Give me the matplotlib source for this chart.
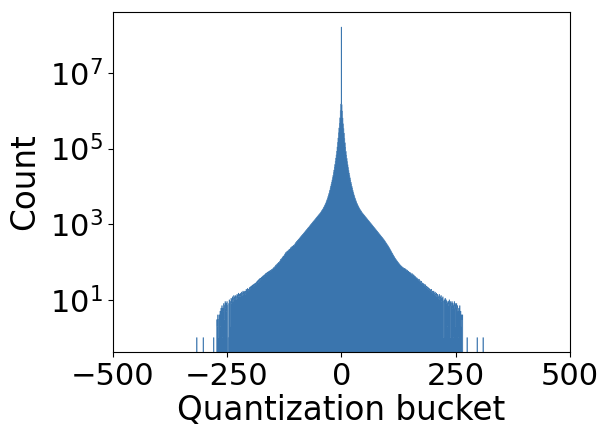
import numpy as np
import matplotlib
matplotlib.use("Agg")
import matplotlib.pyplot as plt
from matplotlib.ticker import FixedLocator, NullLocator, LogFormatterSciNotation

# Histogram counts per integer quantization bucket
first_bucket = -316
left_counts = [  # buckets -316 .. -1
    1, 0, 0, 0, 0, 0, 0, 0, 0, 0,
    0, 0, 0, 0, 1, 0, 0, 0, 0, 0,
    0, 0, 0, 0, 0, 0, 0, 0, 0, 0,
    0, 0, 0, 0, 0, 0, 0, 1, 0, 0,
    0, 0, 0, 0, 3, 2, 4, 3, 1, 4,
    3, 5, 2, 6, 4, 7, 1, 6, 5, 8,
    3, 7, 9, 6, 8, 5, 9, 7, 0, 1,
    8, 10, 9, 2, 9, 11, 8, 10, 12, 9,
    11, 13, 10, 12, 11, 13, 10, 12, 14, 11,
    13, 15, 12, 14, 13, 15, 12, 14, 16, 13,
    15, 17, 14, 16, 15, 17, 14, 17, 19, 16,
    18, 20, 17, 19, 18, 21, 19, 22, 20, 23,
    21, 24, 22, 25, 23, 26, 24, 27, 25, 28,
    26, 30, 28, 32, 29, 34, 31, 36, 33, 37,
    35, 39, 36, 41, 38, 43, 40, 45, 42, 47,
    49, 46, 51, 48, 53, 50, 55, 52, 57, 55,
    59, 57, 61, 59, 64, 62, 66, 68, 71, 69,
    74, 76, 79, 83, 81, 87, 90, 88, 94, 98,
    96, 103, 107, 114, 119, 116, 126, 131, 136, 142,
    139, 150, 157, 164, 176, 171, 183, 188, 195, 191,
    201, 208, 214, 210, 222, 238, 232, 246, 254, 249,
    263, 271, 279, 274, 292, 305, 321, 330, 344, 352,
    368, 375, 392, 401, 418, 430, 447, 460, 479, 492,
    510, 528, 541, 563, 580, 602, 620, 648, 665, 690,
    712, 735, 760, 792, 815, 840, 873, 900, 942, 970,
    1000, 1040, 1070, 1112, 1150, 1190, 1228, 1270, 1314, 1360,
    1410, 1460, 1508, 1560, 1612, 1670, 1730, 1790, 1850, 1910,
    1980, 2050, 2150, 2250, 2350, 2450, 2550, 2700, 2850, 3000,
    3200, 3400, 3600, 3900, 4200, 4500, 4900, 5400, 5900, 6500,
    7200, 8000, 9100, 10200, 11500, 13000, 14800, 17000, 19500, 23000,
    27000, 32000, 38000, 46000, 56000, 68000, 85000, 110000, 145000, 190000,
    260000, 350000, 460000, 650000, 1000000, 1500000,
]
zero_count = 163000000  # bucket 0
right_counts = [  # buckets 1 .. 310
    1450000, 980000, 640000, 450000, 340000, 255000, 185000, 142000, 108000, 84000,
    67000, 55000, 45000, 37500, 31500, 26500, 22500, 19300, 16800, 14600,
    12800, 11300, 10000, 9000, 7900, 7100, 6400, 5800, 5300, 4850,
    4450, 4150, 3850, 3580, 3380, 3170, 2980, 2830, 2680, 2540,
    2430, 2330, 2240, 2130, 2040, 1970, 1900, 1840, 1780, 1720,
    1660, 1600, 1550, 1500, 1450, 1400, 1350, 1300, 1260, 1220,
    1180, 1140, 1100, 1065, 1030, 995, 960, 930, 895, 865,
    835, 808, 782, 755, 728, 705, 680, 658, 635, 612,
    592, 570, 552, 535, 515, 498, 480, 463, 450, 433,
    420, 402, 390, 372, 360, 345, 330, 318, 305, 290,
    280, 268, 255, 246, 232, 222, 210, 202, 190, 182,
    171, 165, 155, 150, 141, 136, 128, 124, 118, 114,
    109, 106, 101, 98, 94, 91, 88, 85, 82, 80,
    78, 76, 74, 72, 71, 69, 68, 66, 67, 65,
    64, 62, 60, 61, 58, 56, 57, 54, 52, 53,
    50, 51, 48, 47, 49, 45, 44, 46, 42, 43,
    40, 41, 39, 37, 38, 35, 36, 34, 33, 35,
    31, 32, 30, 29, 31, 27, 28, 26, 27, 25,
    26, 24, 23, 25, 22, 23, 21, 22, 20, 21,
    19, 20, 18, 19, 17, 18, 19, 16, 17, 15,
    16, 17, 14, 15, 16, 13, 14, 15, 12, 14,
    13, 11, 12, 14, 10, 12, 11, 13, 9, 11,
    10, 12, 9, 1, 10, 8, 11, 9, 10, 8,
    9, 2, 8, 9, 7, 10, 8, 1, 9, 7,
    8, 9, 6, 8, 1, 7, 9, 6, 8, 2,
    7, 8, 6, 7, 5, 1, 6, 4, 7, 3,
    5, 2, 4, 3, 4, 0, 0, 0, 0, 0,
    0, 0, 0, 0, 1, 0, 0, 0, 0, 0,
    0, 0, 0, 0, 0, 0, 0, 0, 0, 0,
    0, 0, 0, 0, 0, 0, 1, 0, 0, 0,
    0, 0, 0, 0, 0, 0, 0, 0, 0, 1,
]
x_ticks = [-500, -250, 0, 250, 500]
y_ticks = [1e1, 1e3, 1e5, 1e7]

counts = np.array(left_counts + [zero_count] + right_counts, dtype=float)
buckets = np.arange(first_bucket, first_bucket + len(counts))
edges = np.append(buckets - 0.5, buckets[-1] + 0.5)

fig = plt.figure(figsize=(6.01, 4.30), dpi=100)
ax = fig.add_axes([0.1875, 0.1814, 0.761, 0.7906])
ax.hist(buckets, bins=edges, weights=counts, histtype="stepfilled",
        log=True, facecolor="#3a75ae", edgecolor="#3a75ae", linewidth=0.4)

ax.set_xlim(-500, 500)
ax.set_ylim(10 ** -0.38, 10 ** 8.61)
ax.set_xticks(x_ticks)
ax.yaxis.set_major_locator(FixedLocator(y_ticks))
ax.yaxis.set_major_formatter(LogFormatterSciNotation())
ax.yaxis.set_minor_locator(NullLocator())
ax.tick_params(labelsize=22)
ax.set_xlabel("Quantization bucket", fontsize=23.5, labelpad=2.5)
ax.set_ylabel("Count", fontsize=23.5, labelpad=6)

fig.savefig("out.png", dpi=100)
